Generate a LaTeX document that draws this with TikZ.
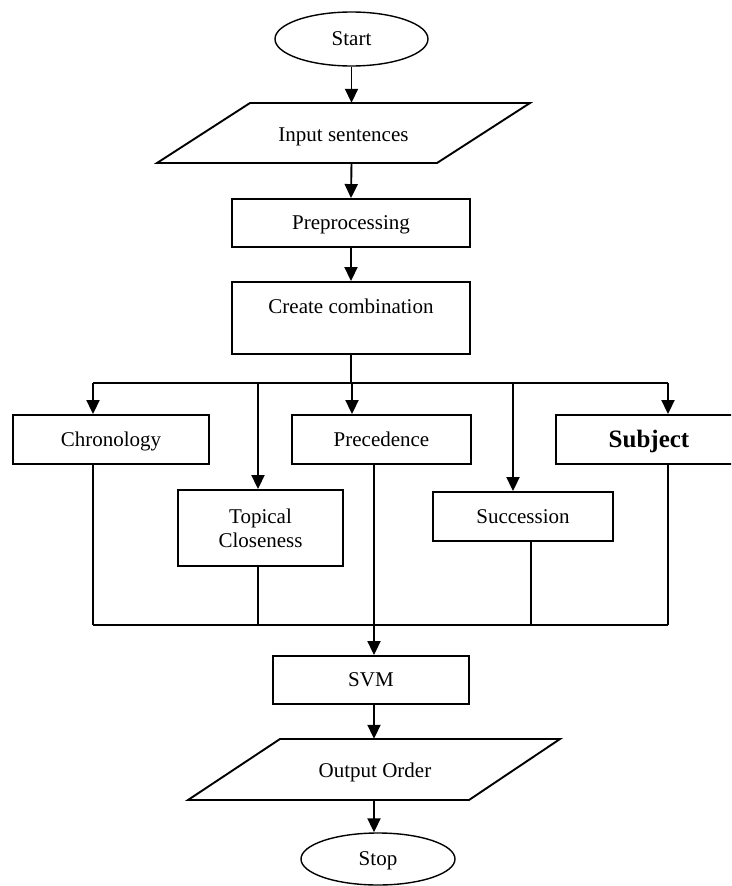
\documentclass[tikz,border=0pt]{standalone}
\usepackage{fontspec}
\setmainfont{Liberation Serif}
\usetikzlibrary{arrows.meta,shapes.geometric}
\begin{document}
\begin{tikzpicture}[x=1pt,y=-1pt,
  lw/.style={line width=1.9pt},
  arr/.style={lw,-{Triangle[length=14pt,width=13pt]}},
  box/.style={draw,lw,rectangle,inner sep=0pt,font=\fontsize{21}{25}\selectfont,text height=14pt,text depth=1pt,align=center},
  oval/.style={draw,line width=1.4pt,ellipse,inner sep=0pt,font=\fontsize{21}{25}\selectfont,text height=14pt,text depth=1pt},
  lbl/.style={inner sep=0pt,font=\fontsize{21}{25}\selectfont,text height=14pt,text depth=1pt,align=center}]
\useasboundingbox (0,0) rectangle (731,886);
\clip (0,0) rectangle (731,886);
% top part
\node[oval,minimum width=153pt,minimum height=54pt] (start) at (351.5,39) {Start};
\draw[lw] (250,103) -- (530,103) -- (437,163) -- (157,163) -- cycle;
\node[lbl,minimum width=180pt,minimum height=60pt] (inp) at (343.5,133) {\raisebox{-2pt}{Input sentences}};
\node[box,minimum width=238pt,minimum height=48pt] (pre) at (351,223) {Preprocessing};
\node[box,minimum width=238pt,minimum height=72pt] (cc) at (351,318) {};
\node[lbl] (ccl) at (351,307) {Create combination};
\draw[arr] (start.south) -- (start.south |- inp.north);
\draw[arr] (start.south |- inp.south) -- (pre.north);
\draw[arr] (pre.south) -- (cc.north);
% branches
\node[box,minimum width=196pt,minimum height=49pt] (chr) at (111,439.5) {Chronology};
\node[box,minimum width=165pt,minimum height=76pt,text height=,text depth=] (top) at (260.5,528) {Topical\\[-1pt]Closeness};
\node[box,minimum width=179pt,minimum height=49pt] (prec) at (381.5,439.5) {Precedence};
\node[box,minimum width=180pt,minimum height=49pt] (succ) at (523,516.5) {Succession};
\node[box,minimum width=186pt,minimum height=49pt,font=\fontsize{25}{28}\selectfont\bfseries,text height=17pt] (subj) at (649,439.5) {Subject};
\coordinate (j0) at (351,383);
\coordinate (j1) at (93,383);
\coordinate (j2) at (258,383);
\coordinate (j3) at (352,383);
\coordinate (j4) at (513,383);
\coordinate (j5) at (668,383);
\draw[lw] (cc.south) -- (j0);
\draw[lw] (j1) -- (j5);
\draw[arr] (j1) -- (j1 |- chr.north);
\draw[arr] (j2) -- (j2 |- top.north);
\draw[arr] (j3) -- (j3 |- prec.north);
\draw[arr] (j4) -- (j4 |- succ.north);
\draw[arr] (j5) -- (j5 |- subj.north);
% collecting lines
\coordinate (b1) at (93,625);
\coordinate (b2) at (258,625);
\coordinate (b3) at (374,625);
\coordinate (b4) at (531,625);
\coordinate (b5) at (668,625);
\draw[lw] (b1 |- chr.south) -- (b1);
\draw[lw] (b2 |- top.south) -- (b2);
\draw[lw] (b3 |- prec.south) -- (b3);
\draw[lw] (b4 |- succ.south) -- (b4);
\draw[lw] (b5 |- subj.south) -- (b5);
\draw[lw] (b1) -- (b5);
% bottom part
\node[box,minimum width=196pt,minimum height=48pt] (svm) at (371,680) {SVM};
\draw[lw] (280,739) -- (560,739) -- (469,800) -- (188,800) -- cycle;
\node[lbl,minimum width=180pt,minimum height=61pt] (out) at (375,769.5) {\raisebox{-1.5pt}{Output Order}};
\node[oval,minimum width=154pt,minimum height=52pt] (stop) at (378,859) {Stop};
\draw[arr] (b3) -- (b3 |- svm.north);
\draw[arr] (b3 |- svm.south) -- (b3 |- out.north);
\draw[arr] (b3 |- out.south) -- (b3 |- stop.north);
\end{tikzpicture}
\end{document}
